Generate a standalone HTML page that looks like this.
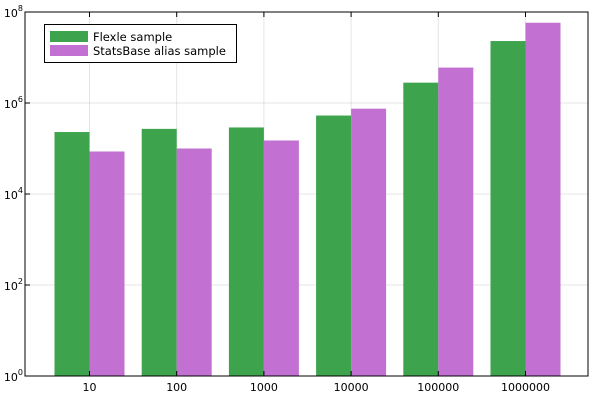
<!DOCTYPE html>
<html><head><meta charset="utf-8"><style>
body{margin:0;background:#fff}
svg text{font-family:"DejaVu Sans","Liberation Sans",sans-serif;fill:#000}
</style></head><body>
<svg width="600" height="400" viewBox="0 0 600 400" xmlns="http://www.w3.org/2000/svg">
<g id="grid"></g>
<g id="bars"></g>
<rect x="25" y="12" width="563" height="364" fill="none" stroke="#000" stroke-width="1"/>
<g id="ticks"></g>
<g>
<rect x="44.5" y="24.5" width="192" height="38" fill="#fff" stroke="#000"/>
<rect x="50" y="31" width="38" height="11" fill="#3da44d"/>
<text x="93" y="41" font-size="11.5">Flexle sample</text>
<rect x="50" y="45" width="38" height="11" fill="#c271d2"/>
<text x="93" y="55" font-size="11.5">StatsBase alias sample</text>
</g>
</svg>
<script>
const categories=["10","100","1000","10000","100000","1000000"];
const flexle=[2.3e5,2.7e5,2.9e5,5.3e5,2.8e6,2.3e7];
const statsbase=[8.6e4,1.0e5,1.5e5,7.5e5,6.0e6,5.8e7];
const yTickExps=[0,2,4,6,8];
const NS="http://www.w3.org/2000/svg";
const top_=12,bottom=376,left=25,right=588;
function y(v){return bottom-(Math.log10(v)-0)/8*(bottom-top_);}
function x(i){return 89.5+87.2*i;}
const bw=35;
function mk(t,a,p){const e=document.createElementNS(NS,t);for(const k in a)e.setAttribute(k,a[k]);p.appendChild(e);return e;}
const grid=document.getElementById('grid'),bars=document.getElementById('bars'),ticks=document.getElementById('ticks');
yTickExps.forEach(ex=>{const yy=y(Math.pow(10,ex));
 const g=mk('line',{x1:left,x2:right,y1:yy,y2:yy,stroke:'#000','stroke-opacity':0.1},grid);
 
 
 const t=mk('line',{x1:left,x2:left+5,y1:yy,y2:yy,stroke:'#000'},ticks);
 
 
 const l=mk('text',{x:left-2,y:yy+5,'text-anchor':'end','font-size':11},ticks);
 
 
 l.innerHTML='10<tspan dy="-6" font-size="8">'+ex+'</tspan>';
});
categories.forEach((c,i)=>{const xx=x(i);
 const g=mk('line',{x1:xx,x2:xx,y1:top_,y2:bottom,stroke:'#000','stroke-opacity':0.1},grid);
 
 
 const b1=mk('rect',{x:xx-bw,y:y(flexle[i]),width:bw,height:bottom-y(flexle[i]),fill:'#3da44d'},bars);
 
 
 const b2=mk('rect',{x:xx,y:y(statsbase[i]),width:bw,height:bottom-y(statsbase[i]),fill:'#c271d2'},bars);
 
 
 const t1=mk('line',{x1:xx,x2:xx,y1:bottom,y2:bottom-5,stroke:'#000'},ticks);
 
 
 const t2=mk('line',{x1:xx,x2:xx,y1:top_,y2:top_+5,stroke:'#000'},ticks);
 
 
 const l=mk('text',{x:xx,y:bottom+15,'text-anchor':'middle','font-size':11},ticks);
 
 
 l.textContent=c;
});
</script>
</body></html>
